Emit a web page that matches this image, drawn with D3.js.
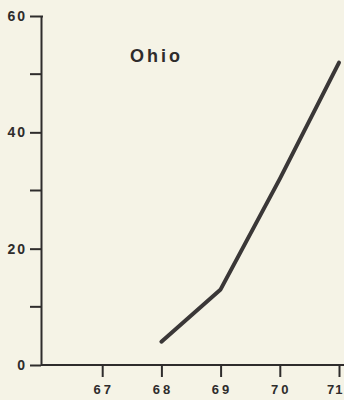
<!DOCTYPE html>
<html>
<head>
<meta charset="utf-8">
<script src="https://cdn.jsdelivr.net/npm/d3@7"></script>
<style>
  html, body { margin:0; padding:0; background:#f5f3e6; }
  svg { display:block; }
  text { font-family: "Liberation Sans", Arial, sans-serif; font-weight:bold; fill:#2e2c2c; }
</style>
</head>
<body>
<div id="chart"></div>
<script>
// Ohio line chart
const years = [68, 69, 70, 71];
const values = [4, 13, 32, 52];
const xTicks = [67, 68, 69, 70, 71];
const yTicks = [0, 20, 40, 60];
const yMinor = [10, 30, 50];
const title = 'Ohio';

(function(){
  const width = 344, height = 400;
  const ink = '#2e2c2c';

  const svg = d3.select('#chart').append('svg')
    .attr('width', width).attr('height', height);

  const x = d3.scaleLinear().domain([66, 71]).range([43, 339]);
  const y = d3.scaleLinear().domain([0, 60]).range([365, 16]);

  // y axis
  const yAxis = svg.append('g').attr('transform', 'translate(41,0)')
    .call(d3.axisLeft(y).tickValues(yTicks).tickFormat(d3.format('d'))
      .tickSize(11).tickPadding(3).tickSizeOuter(0));
  yAxis.select('.domain').attr('stroke', ink).attr('stroke-width', 2);
  yAxis.selectAll('.tick line').attr('stroke', ink).attr('stroke-width', 2);
  yAxis.selectAll('.tick text').attr('font-size', 14).attr('letter-spacing', 2).attr('fill', ink);
  yAxis.selectAll('.tick').filter(d => d === 60).append('line')
    .attr('x1', 0).attr('x2', 2).attr('stroke', ink).attr('stroke-width', 2);
  yAxis.selectAll('.minor').data(yMinor).enter().append('line')
    .attr('x1', -11).attr('x2', 0)
    .attr('y1', d => y(d)).attr('y2', d => y(d))
    .attr('stroke', ink).attr('stroke-width', 2);

  // x axis
  const xAxis = svg.append('g').attr('transform', 'translate(0,365)')
    .call(d3.axisBottom(x).tickValues(xTicks).tickFormat(d3.format('d'))
      .tickSize(12).tickPadding(8).tickSizeOuter(0));
  xAxis.select('.domain').attr('d', `M41,0H${width}`).attr('stroke', ink).attr('stroke-width', 2);
  xAxis.selectAll('.tick line').attr('stroke', ink).attr('stroke-width', 2);
  xAxis.selectAll('.tick text').attr('font-size', 13).attr('letter-spacing', 3).attr('fill', ink)
    .attr('dx', 1);
  xAxis.selectAll('.tick').filter(d => d === 71).select('text')
    .attr('text-anchor', 'end').attr('x', 4).attr('dx', 0).attr('letter-spacing', 1);

  // line
  const line = d3.line().x((d, i) => x(years[i])).y(d => y(d));
  svg.append('path').datum(values)
    .attr('d', line)
    .attr('fill', 'none')
    .attr('stroke', '#3a3737')
    .attr('stroke-width', 4)
    .attr('stroke-linecap', 'round')
    .attr('stroke-linejoin', 'round');

  svg.append('text').attr('x', 130).attr('y', 62)
    .attr('font-size', 18).attr('letter-spacing', 3).attr('fill', ink)
    .text(title);
})();
</script>
</body>
</html>
